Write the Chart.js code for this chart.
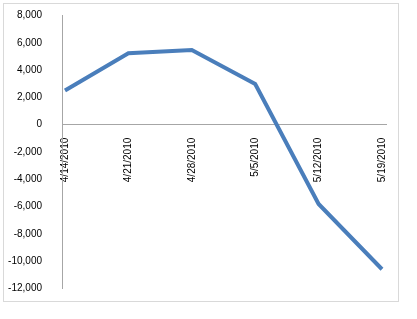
<!DOCTYPE html>
<html>
<head>
<meta charset="utf-8">
<script src="https://cdn.jsdelivr.net/npm/chart.js@4"></script>
<style>
html,body{margin:0;padding:0;background:#fff;}
#wrap{position:relative;width:417px;height:319px;}
</style>
</head>
<body>
<div id="wrap"><canvas id="c" width="417" height="319"></canvas></div>
<script>
const categories = ["4/14/2010","4/21/2010","4/28/2010","5/5/2010","5/12/2010","5/19/2010"];
const values = [2500, 5230, 5470, 2980, -5810, -10590];
const yTicks = [-12000,-10000,-8000,-6000,-4000,-2000,0,2000,4000,6000,8000];

const borderPlugin = {
  id: 'outerBorder',
  beforeDraw(chart) {
    const ctx = chart.ctx;
    ctx.save();
    ctx.fillStyle = '#fff';
    ctx.fillRect(0,0,chart.width,chart.height);
    ctx.strokeStyle = '#d9d9d9';
    ctx.lineWidth = 1;
    ctx.strokeRect(3.5, 3.5, 395, 298);
    ctx.restore();
  }
};

new Chart(document.getElementById('c'), {
  type: 'line',
  data: {
    labels: categories,
    datasets: [{
      data: values.map((v, i) => ({ x: i, y: v })),
      borderColor: '#4a7ebb',
      borderWidth: 4,
      pointRadius: 0,
      tension: 0,
      fill: false
    }]
  },
  options: {
    responsive: false,
    animation: false,
    plugins: { legend: { display: false }, tooltip: { enabled: false } },
    layout: { padding: { top: 15.5, right: 31, bottom: 30.5, left: 0 } },
    scales: {
      x: {
        type: 'linear',
        position: { y: 0 },
        min: -0.047, max: 5.063,
        afterBuildTicks: (scale) => { scale.ticks = categories.map((c, i) => ({ value: i })); },
        afterFit: (scale) => { scale.paddingLeft = 0; scale.paddingRight = 0; scale.paddingTop = 0; scale.paddingBottom = 0; },
        grid: { display: false },
        border: { display: true, color: '#a6a6a6', width: 1 },
        ticks: {
          maxRotation: 90, minRotation: 90,
          autoSkip: false,
          padding: 5,
          color: '#000',
          font: { family: '"Liberation Sans", Arial, sans-serif', size: 10 },
          callback: (v) => categories[v]
        }
      },
      y: {
        min: -12000, max: 8000,
        afterBuildTicks: (scale) => { scale.ticks = yTicks.map(v => ({ value: v })); },
        afterFit: (scale) => { scale.width = 62; scale.paddingTop = 0; scale.paddingBottom = 0; },
        grid: { display: false },
        border: { display: true, color: '#a6a6a6', width: 1 },
        ticks: {
          padding: 12,
          color: '#000',
          font: { family: '"Liberation Sans", Arial, sans-serif', size: 10 },
          callback: (v) => Number(v).toLocaleString('en-US')
        }
      }
    }
  },
  plugins: [borderPlugin]
});
</script>
</body>
</html>
